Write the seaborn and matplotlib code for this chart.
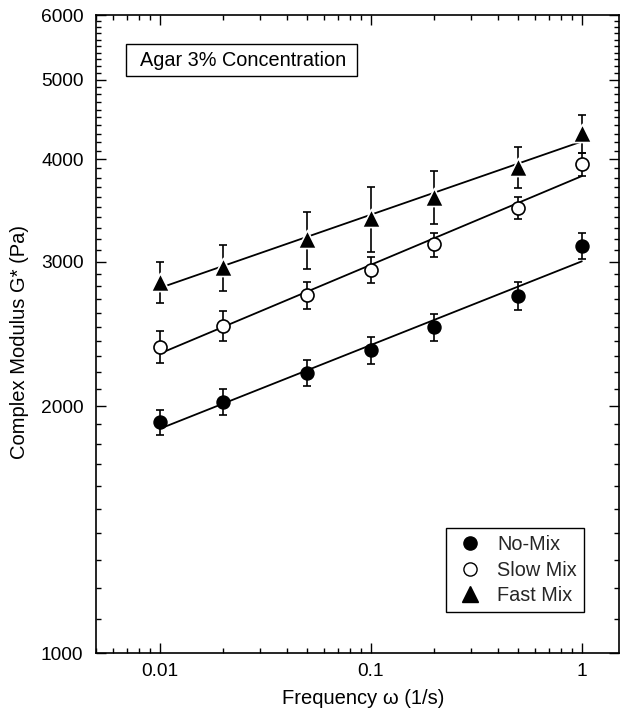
import numpy as np
import pandas as pd
import matplotlib
matplotlib.use("Agg")
import matplotlib.pyplot as plt
import seaborn as sns
from matplotlib.lines import Line2D
from matplotlib.patches import Rectangle
from matplotlib.ticker import FixedLocator, FixedFormatter, LogLocator, NullFormatter

# ---------------- data ----------------
frequency = [0.01, 0.02, 0.05, 0.1, 0.2, 0.5, 1.0]

no_mix = [1911, 2025, 2197, 2342, 2496, 2728, 3139]
no_mix_err = [67, 72, 80, 89, 97, 105, 112]

slow_mix = [2363, 2505, 2733, 2932, 3151, 3492, 3945]
slow_mix_err = [107, 105, 103, 107, 106, 110, 130]

fast_mix = [2836, 2954, 3196, 3393, 3602, 3917, 4303]
fast_mix_err = [163, 190, 258, 312, 270, 230, 230]

series_names = ["No-Mix", "Slow Mix", "Fast Mix"]

y_tick_values = [1000, 2000, 3000, 4000, 5000, 6000]
y_tick_labels = ["1000", "2000", "3000", "4000", "5000", "6000"]
x_tick_values = [0.01, 0.1, 1]
x_tick_labels = ["0.01", "0.1", "1"]

title_text = "Agar 3% Concentration"
x_label = "Frequency \u03c9 (1/s)"
y_label = "Complex Modulus G* (Pa)"

# ---------------- style ----------------
sns.set_theme(style="ticks")
plt.rcParams["font.family"] = ["Liberation Sans", "DejaVu Sans"]
plt.rcParams["axes.linewidth"] = 1.2

fig = plt.figure(figsize=(6.21, 7.18), dpi=100)
ax = fig.add_axes([96 / 621, 1 - 653 / 718, 523 / 621, 638 / 718])

values = [no_mix, slow_mix, fast_mix]
errors = [no_mix_err, slow_mix_err, fast_mix_err]
styles = {
    "No-Mix": dict(marker="o", face="black", edge="black", s=88, lw=1.0),
    "Slow Mix": dict(marker="o", face="white", edge="black", s=88, lw=1.2),
    "Fast Mix": dict(marker="^", face="black", edge="white", s=170, lw=1.2),
}

for name, vals, errs in zip(series_names, values, errors):
    # error bars
    ax.errorbar(frequency, vals, yerr=errs, fmt="none", ecolor="black",
                elinewidth=1.2, capsize=3, capthick=1.2, zorder=2)
    # power-law fit line
    coef = np.polyfit(np.log10(frequency), np.log10(vals), 1)
    xs = np.array([frequency[0], frequency[-1]])
    ys = 10 ** np.polyval(coef, np.log10(xs))
    sns.lineplot(x=xs, y=ys, ax=ax, color="black", linewidth=1.3, zorder=2)

for name, vals in zip(series_names, values):
    st = styles[name]
    df = pd.DataFrame({"frequency": frequency, "modulus": vals})
    sns.scatterplot(data=df, x="frequency", y="modulus", ax=ax,
                    marker=st["marker"], color=st["face"], edgecolor=st["edge"],
                    s=st["s"], linewidth=st["lw"], zorder=3)

# ---------------- axes ----------------
ax.set_xscale("log")
ax.set_yscale("log")
ax.set_xlim(0.005, 1.5)
ax.set_ylim(1000, 6000)

ax.yaxis.set_major_locator(FixedLocator(y_tick_values))
ax.yaxis.set_major_formatter(FixedFormatter(y_tick_labels))
y_minor = [v for v in range(1100, 6000, 100) if v % 1000 != 0]
ax.yaxis.set_minor_locator(FixedLocator(y_minor))
ax.yaxis.set_minor_formatter(NullFormatter())

ax.xaxis.set_major_locator(FixedLocator(x_tick_values))
ax.xaxis.set_major_formatter(FixedFormatter(x_tick_labels))
ax.xaxis.set_minor_locator(LogLocator(base=10, subs=np.arange(2, 10)))
ax.xaxis.set_minor_formatter(NullFormatter())

ax.tick_params(which="both", direction="in", top=True, right=True,
               color="black", labelcolor="black", width=1.0)
ax.tick_params(which="major", length=7, labelsize=13.8)
ax.tick_params(axis="y", which="major", pad=9)
ax.tick_params(axis="x", which="major", pad=7)
ax.tick_params(which="minor", length=3.5)
for sp in ax.spines.values():
    sp.set_color("black")
    sp.set_linewidth(1.2)

ax.set_xlabel(x_label, fontsize=14.5, color="black")
ax.set_ylabel(y_label, fontsize=14.5, color="black")
ax.xaxis.set_label_coords(0.51, -0.056)
ax.yaxis.set_label_coords(-0.128, 0.487)

# ---------------- annotation box ----------------
ax.add_patch(Rectangle((30 / 523, (653 - 76) / 638), 231 / 523, 32 / 638,
                       transform=ax.transAxes, facecolor="white",
                       edgecolor="black", linewidth=1.0, zorder=4))
ax.text(44 / 523, (653 - 60) / 638, title_text, transform=ax.transAxes,
        ha="left", va="center", fontsize=14.3, color="black", zorder=5)

# ---------------- legend ----------------
handles = []
for name in series_names:
    st = styles[name]
    handles.append(Line2D([], [], linestyle="none", marker=st["marker"],
                          markerfacecolor=st["face"],
                          markeredgecolor="black",
                          markeredgewidth=1.0,
                          markersize=9.5 if st["marker"] == "o" else 11.5))
leg = ax.legend(handles, series_names, loc="lower right",
                bbox_to_anchor=((584 - 96) / 523, (653 - 612) / 638),
                fontsize=14.3, frameon=True, fancybox=False, framealpha=1,
                edgecolor="black", handlelength=1.8, handletextpad=0.45,
                borderpad=0.35, labelspacing=0.32, borderaxespad=0)
leg.get_frame().set_linewidth(1.0)

fig.savefig("out.png", dpi=100)
